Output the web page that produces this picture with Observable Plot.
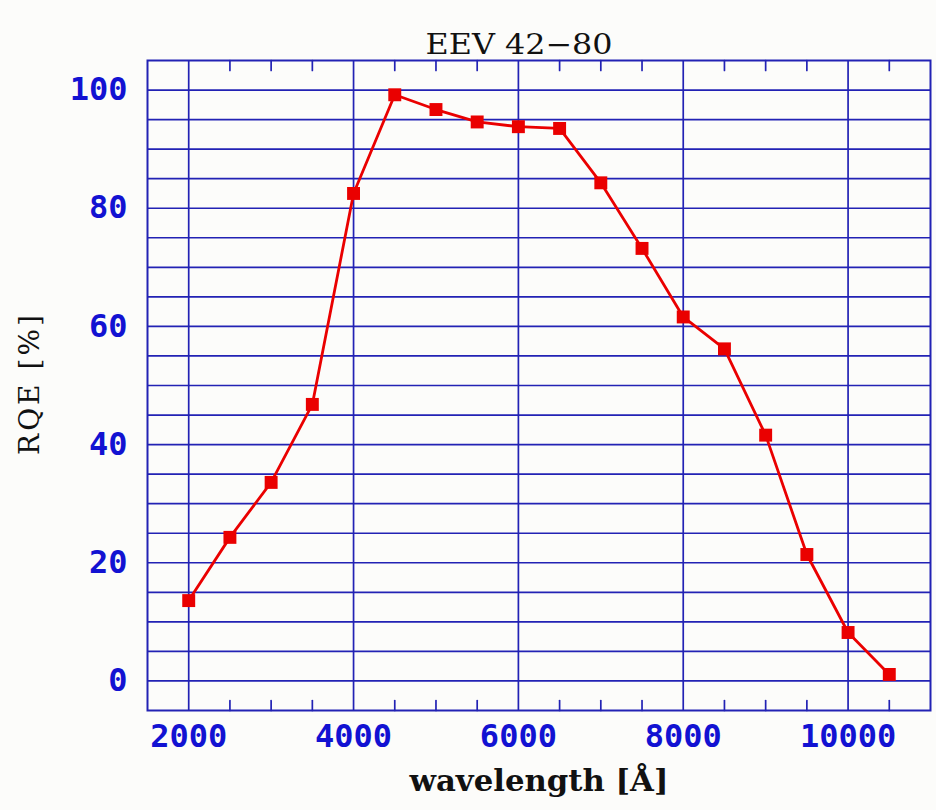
<!DOCTYPE html>
<html>
<head>
<meta charset="utf-8">
<script src="https://cdn.jsdelivr.net/npm/d3@7"></script>
<script src="https://cdn.jsdelivr.net/npm/@observablehq/plot@0.6"></script>
<style>
  html, body { margin: 0; padding: 0; background: #fcfcfa; }
  #chart svg { display: block; }
</style>
</head>
<body>
<div id="chart"></div>
<script>
// Data
const wavelengths = [2000, 2500, 3000, 3500, 4000, 4500, 5000, 5500, 6000, 6500, 7000, 7500, 8000, 8500, 9000, 9500, 10000, 10500];
const rqeValues   = [13.6, 24.3, 33.6, 46.8, 82.5, 99.2, 96.7, 94.6, 93.8, 93.5, 84.3, 73.2, 61.6, 56.2, 41.6, 21.4, 8.2, 1.1];

const xMajorTicks = [2000, 4000, 6000, 8000, 10000];
const xMinorTicks = [2500, 3000, 3500, 4500, 5000, 5500, 6500, 7000, 7500, 8500, 9000, 9500, 10500];
const yTickLabels = [0, 20, 40, 60, 80, 100];
const yGridLines  = [0, 5, 10, 15, 20, 25, 30, 35, 40, 45, 50, 55, 60, 65, 70, 75, 80, 85, 90, 95, 100];

const titleText = "EEV 42\u221280";
const xLabelText = "wavelength [\u00C5]";
const yLabelText = "RQE [%]";

const data = wavelengths.map((w, i) => ({wavelength: w, rqe: rqeValues[i]}));

const gridColor = "#2222b4";
const labelBlue = "#1212d2";
const red = "#ea0000";

const tickShape = {
  draw(context, l) { context.moveTo(0, 0); context.lineTo(0, -l); }
};

const chart = Plot.plot({
  width: 936,
  height: 810,
  marginLeft: 147,
  marginRight: 6,
  marginTop: 60,
  marginBottom: 100,
  x: {domain: [1500, 11000]},
  y: {domain: [-5, 105]},
  style: {background: "#fcfcfa", fontFamily: "DejaVu Serif"},
  marks: [
    Plot.ruleY(yGridLines, {stroke: gridColor, strokeWidth: 1.7}),
    Plot.ruleX(xMajorTicks, {stroke: gridColor, strokeWidth: 1.7}),
    Plot.frame({stroke: gridColor, strokeWidth: 2}),
    Plot.vectorX(xMinorTicks, {x: d => d, frameAnchor: "bottom", anchor: "start", length: 10, rotate: 0, shape: tickShape, stroke: gridColor, strokeWidth: 1.7}),
    Plot.vectorX(xMinorTicks, {x: d => d, frameAnchor: "top", anchor: "start", length: 10, rotate: 180, shape: tickShape, stroke: gridColor, strokeWidth: 1.7}),
    Plot.line(data, {x: "wavelength", y: "rqe", stroke: red, strokeWidth: 2.8}),
    Plot.dot(data, {x: "wavelength", y: "rqe", symbol: "square", r: 7.3, fill: red, stroke: "none"}),
    Plot.axisX({ticks: xMajorTicks, tickSize: 0, tickPadding: 14, label: null, tickFormat: d => String(d),
      fontSize: 32, fontWeight: "bold", fontFamily: "DejaVu Sans Mono", fill: labelBlue}),
    Plot.axisY({ticks: yTickLabels, tickSize: 0, tickPadding: 20, label: null, tickFormat: d => String(d),
      fontSize: 32, fontWeight: "bold", fontFamily: "DejaVu Sans Mono", fill: labelBlue}),
    Plot.text([titleText], {frameAnchor: "top", dx: -20, dy: -7, lineAnchor: "bottom", fontSize: 28,
      fontFamily: "DejaVu Serif", fill: "#111"}),
    Plot.text([xLabelText], {frameAnchor: "bottom", dy: 60, lineAnchor: "top", fontSize: 29, fontWeight: "bold",
      fontFamily: "DejaVu Serif", fill: "#111"}),
    Plot.text([yLabelText], {frameAnchor: "left", dx: -117, dy: -2, rotate: -90, textAnchor: "middle", lineAnchor: "middle", fontSize: 28,
      fontFamily: "DejaVu Serif", fill: "#111"})
  ]
});

// Stretch the title and x label to the widths seen in the reference; space out the y label
const widths = {[titleText]: 187, [xLabelText]: 259};
chart.querySelectorAll("text").forEach(t => {
  const w = widths[t.textContent];
  if (w) { t.setAttribute("textLength", w); t.setAttribute("lengthAdjust", "spacingAndGlyphs"); }
  if (t.textContent === yLabelText) { t.setAttribute("letter-spacing", "3"); }
});

document.getElementById("chart").appendChild(chart);
</script>
</body>
</html>
